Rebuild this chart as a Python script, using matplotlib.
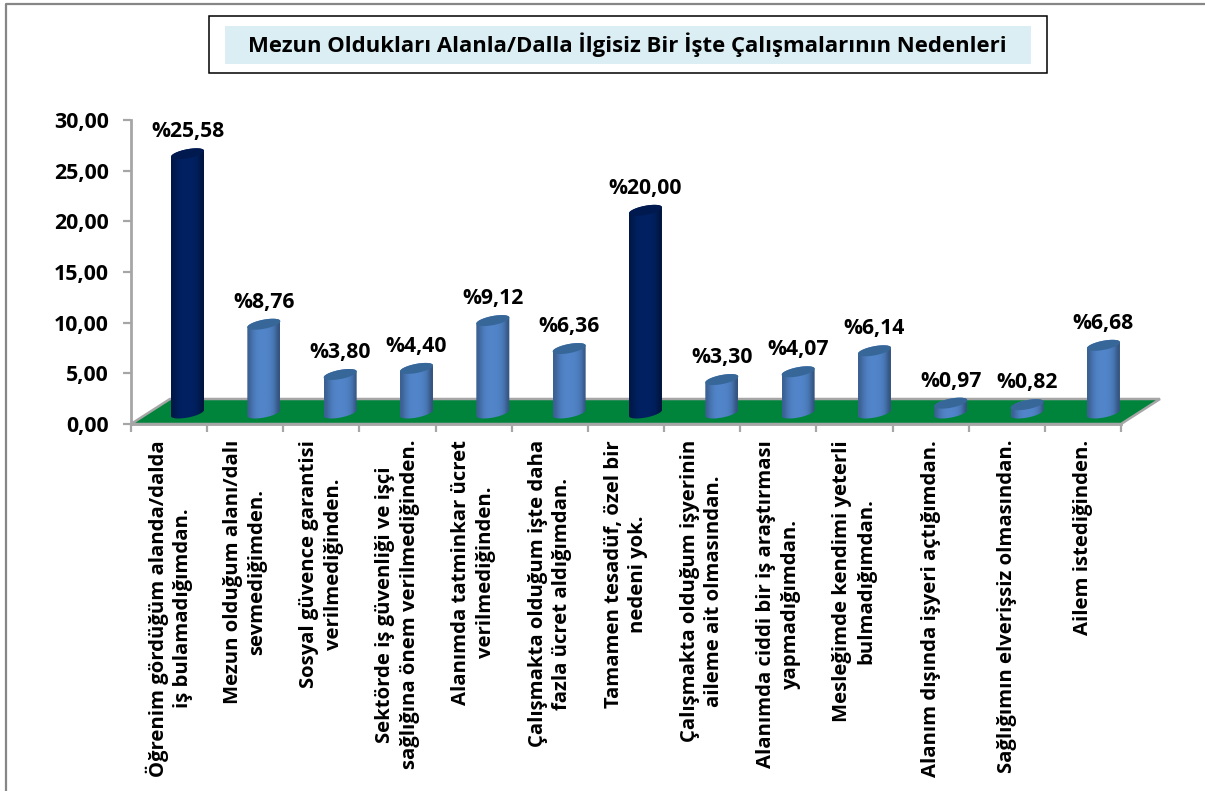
import numpy as np
import matplotlib
matplotlib.use("Agg")
import matplotlib.pyplot as plt
from matplotlib.patches import Polygon, Rectangle

plt.rcParams['font.family'] = ['Open Sans', 'DejaVu Sans']
plt.rcParams['font.weight'] = 'bold'

categories = [
    "Öğrenim gördüğüm alanda/dalda\niş bulamadığımdan.",
    "Mezun olduğum alanı/dalı\nsevmediğimden.",
    "Sosyal güvence garantisi\nverilmediğinden.",
    "Sektörde iş güvenliği ve işçi\nsağlığına önem verilmediğinden.",
    "Alanımda tatminkar ücret\nverilmediğinden.",
    "Çalışmakta olduğum işte daha\nfazla ücret aldığımdan.",
    "Tamamen tesadüf, özel bir\nnedeni yok.",
    "Çalışmakta olduğum işyerinin\naileme ait olmasından.",
    "Alanımda ciddi bir iş araştırması\nyapmadığımdan.",
    "Mesleğimde kendimi yeterli\nbulmadığımdan.",
    "Alanım dışında işyeri açtığımdan.",
    "Sağlığımın elverişsiz olmasından.",
    "Ailem istediğinden.",
]
values = [25.58, 8.76, 3.80, 4.40, 9.12, 6.36, 20.00, 3.30, 4.07, 6.14, 0.97, 0.82, 6.68]
value_labels = ["%25,58", "%8,76", "%3,80", "%4,40", "%9,12", "%6,36", "%20,00",
                "%3,30", "%4,07", "%6,14", "%0,97", "%0,82", "%6,68"]
yticks = [0, 5, 10, 15, 20, 25, 30]
ytick_labels = ["0,00", "5,00", "10,00", "15,00", "20,00", "25,00", "30,00"]
highlight = [0, 6]

W, H = 1205, 791
L, R, T, B = 131, 1121, 120, 424

# data units per pixel
PX = 13 / (R - L)
PY = 30 / (B - T)


def px_box(x0, y0, x1, y1):
    return [x0 / W, 1 - y1 / H, (x1 - x0) / W, (y1 - y0) / H]


fig = plt.figure(figsize=(W / 100, H / 100), dpi=100)

# page frame and title box
bg = fig.add_axes([0, 0, 1, 1])
bg.set_xlim(0, W)
bg.set_ylim(H, 0)
bg.axis('off')
bg.plot([6, 6, W], [H, 4, 4], color='#868686', lw=1.6)
bg.add_patch(Rectangle((209, 16), 838, 57, fc='white', ec='black', lw=1.1))
bg.add_patch(Rectangle((225, 26), 806, 38, fc='#DAEEF3', ec='none'))
bg.text(627.5, 45, "Mezun Oldukları Alanla/Dalla İlgisiz Bir İşte Çalışmalarının Nedenleri",
        ha='center', va='center', fontsize=15.9, fontweight='bold')

ax = fig.add_axes(px_box(L, T, R, B))
ax.patch.set_alpha(0)
ax.set_xlim(0, 13)
ax.set_ylim(0, 30)
for side in ['top', 'right']:
    ax.spines[side].set_visible(False)
for side in ['left', 'bottom']:
    ax.spines[side].set_color('#A6A6A6')
    ax.spines[side].set_linewidth(2)

ax.set_yticks(yticks)
ax.set_yticklabels(ytick_labels, fontsize=15.4, fontweight='bold')
ax.set_xticks(range(14))
ax.set_xticklabels([])
ax.tick_params(axis='y', length=6, width=1.6, color='#A6A6A6', pad=10)
ax.tick_params(axis='x', length=6, width=1.6, color='#A6A6A6')

# green floor, 39 px deep and 25 px high
fx, fy = 39 * PX, 25 * PY
ax.add_patch(Polygon([(0, 0), (13, 0), (13 + fx, fy), (fx, fy)], closed=True, fc='#00843C',
                     ec='#A6A6A6', lw=1.8, clip_on=False, zorder=3))

shades = np.array([0.74, 0.9, 1.0, 1.03, 1.03, 1.02, 0.98, 0.9, 0.64])


def ellipse(cx, cy, t):
    # tilted ellipse, right side higher than left
    xs = cx + 16.5 * PX * np.cos(t)
    ys = cy + (4.6 * np.sin(t) + 3.0 * np.cos(t)) * PY
    return xs, ys


bar_dy = 11 * PY
for i, v in enumerate(values):
    cx = (56.5 + 76.33 * i) * PX
    top = v + bar_dy
    if i in highlight:
        body, cap = np.array([0, 32, 96]) / 255, '#001A4F'
    else:
        body, cap = np.array([79, 129, 196]) / 255, '#376799'

    # body = lower half of base ellipse + upper half of top ellipse
    xb, yb = ellipse(cx, bar_dy, np.linspace(np.pi, 2 * np.pi, 40))
    xt, yt = ellipse(cx, top, np.linspace(0, np.pi, 40))
    poly = Polygon(np.column_stack([np.r_[xb, xt], np.r_[yb, yt]]), closed=True,
                   fc='none', ec='none')
    ax.add_patch(poly)
    grad = np.clip(shades[None, :, None] * body[None, None, :], 0, 1)
    im = ax.imshow(grad, extent=[cx - 16.5 * PX, cx + 16.5 * PX, 0, top + 1], aspect='auto',
                   interpolation='bicubic', zorder=4)
    im.set_clip_path(poly)

    xc, yc = ellipse(cx, top, np.linspace(0, 2 * np.pi, 80))
    ax.add_patch(Polygon(np.column_stack([xc, yc]), closed=True, fc=cap, ec='none', zorder=5))

    ax.annotate(value_labels[i], (cx, top), xytext=(0, 15.8), textcoords='offset points',
                ha='center', va='center', fontsize=15.2, fontweight='bold', zorder=6,
                annotation_clip=False)

ax.set_xlim(0, 13)
ax.set_ylim(0, 30)

for i, lab in enumerate(categories):
    ax.annotate(lab, (i + 0.5, 0), xytext=(0, -11.5), textcoords='offset points', rotation=90,
                ha='center', va='top', multialignment='center', fontsize=14.6,
                fontweight='bold', linespacing=1.3, annotation_clip=False)

fig.savefig("out.png", dpi=100)
